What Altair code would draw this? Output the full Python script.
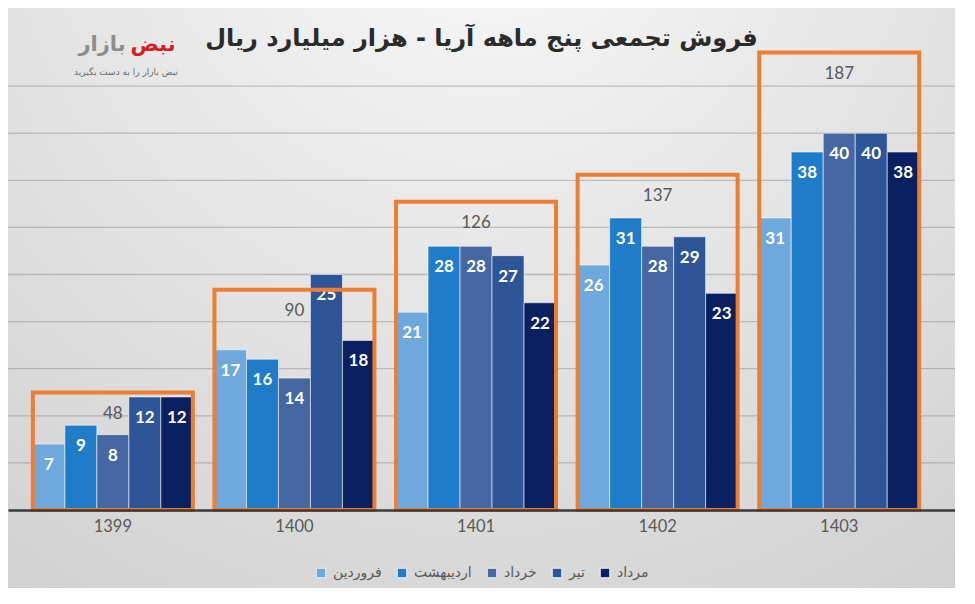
import altair as alt
import pandas as pd

# ---- data ----
years = ["1399", "1400", "1401", "1402", "1403"]
months = ["فروردین", "اردیبهشت", "خرداد", "تیر", "مرداد"]
farvardin = [7, 17, 21, 26, 31]
ordibehesht = [9, 16, 28, 31, 38]
khordad = [8, 14, 28, 28, 40]
tir = [12, 25, 27, 29, 40]
mordad = [12, 18, 22, 23, 38]
totals = [48, 90, 126, 137, 187]
grid_values = [5, 10, 15, 20, 25, 30, 35, 40, 45]

month_colors = ["#6FA8DC", "#1E7CC8", "#4767A3", "#2D5597", "#0B2060"]
title_text = "فروش تجمعی پنج ماهه آریا - هزار میلیارد ریال"
logo_words = ["بازار", "نبض"]
logo_tag = "نبض بازار را به دست بگیرید"

series = [farvardin, ordibehesht, khordad, tir, mordad]
rows = []
for m, vals in zip(months, series):
    for y, v in zip(years, vals):
        rows.append({"year": y, "month": m, "value": v})
df = pd.DataFrame(rows)
tdf = pd.DataFrame({"year": years, "total": totals})
gdf = pd.DataFrame({"g": grid_values})

# ---- scales ----
x_scale = alt.Scale(domain=years, paddingInner=0.119, paddingOuter=0.167, align=0.41)
y_scale = alt.Scale(domain=[-8.28, 53.29], nice=False, zero=False)
t_scale = alt.Scale(domain=[-31.9, 205.2], nice=False, zero=False)

x_axis = alt.Axis(title=None, labelAngle=0, ticks=False, domainColor="#3a3a3a",
                  domainWidth=2.5, labelFontSize=16.5, labelColor="#595959",
                  labelFont="Lato", labelPadding=8, offset=-78, grid=False, zindex=1)
X = alt.X("year:N", scale=x_scale, axis=x_axis, sort=years)
XO = alt.XOffset("month:N", sort=months, scale=alt.Scale(domain=months, paddingInner=0, paddingOuter=0))

legend = alt.Legend(title=None, orient="none", legendX=306, legendY=558,
                    direction="horizontal", symbolType="square", symbolSize=90,
                    symbolStrokeColor="#f0f0f0", symbolStrokeWidth=1,
                    labelFontSize=14, labelColor="#595959", labelFont="DejaVu Sans",
                    columnPadding=13, labelOffset=5)

bg_fill = {
    "gradient": "radial", "x1": 0.5, "y1": 0.05, "r1": 0, "x2": 0.5, "y2": 0.05, "r2": 0.95,
    "stops": [{"offset": 0, "color": "#fafafa"},
              {"offset": 0.45, "color": "#e6e6e6"},
              {"offset": 1, "color": "#cfcfcf"}],
}
background = alt.Chart(pd.DataFrame({"k": [0]})).mark_rect(fill=bg_fill).encode(
    x=alt.value(0), x2=alt.value("width"), y=alt.value(0), y2=alt.value("height"))

grid = alt.Chart(gdf).mark_rule(color="#7f7f7f", opacity=0.42, strokeWidth=1.3).encode(
    y=alt.Y("g:Q", scale=y_scale, axis=None))

bars = alt.Chart(df).mark_bar(stroke="#ffffff", strokeOpacity=0.55, strokeWidth=1).encode(
    x=X,
    xOffset=XO,
    y=alt.Y("value:Q", scale=y_scale, axis=None),
    color=alt.Color("month:N", sort=months,
                    scale=alt.Scale(domain=months, range=month_colors), legend=legend),
)

bar_labels = alt.Chart(df).mark_text(color="white", fontWeight="bold", fontSize=17,
                                     font="Lato", baseline="middle", dy=21).encode(
    x=X, xOffset=XO,
    y=alt.Y("value:Q", scale=y_scale, axis=None),
    text="value:Q",
)

boxes = alt.Chart(tdf).mark_bar(filled=False, stroke="#ED7D31", strokeWidth=4).encode(
    x=X,
    y=alt.Y("total:Q", scale=t_scale, axis=None),
)

total_labels = alt.Chart(tdf).mark_text(fontSize=17, color="#595959", font="Lato",
                                        baseline="middle", dy=21).encode(
    x=X,
    y=alt.Y("total:Q", scale=t_scale, axis=None),
    text="total:Q",
)

logo_a = alt.Chart(pd.DataFrame({"t": [logo_words[0]]})).mark_text(
    fontSize=21, fontWeight="bold", color="#8c8c8c", font="DejaVu Sans").encode(
    x=alt.value(94), y=alt.value(37), text="t:N")
logo_b = alt.Chart(pd.DataFrame({"t": [logo_words[1]]})).mark_text(
    fontSize=21, fontWeight="bold", color="#d0202a", font="DejaVu Sans").encode(
    x=alt.value(145), y=alt.value(37), text="t:N")
logo_c = alt.Chart(pd.DataFrame({"t": [logo_tag]})).mark_text(
    fontSize=9, color="#6d6d6d", font="DejaVu Sans").encode(
    x=alt.value(118), y=alt.value(64), text="t:N")

chart = alt.layer(background, grid, bars, bar_labels, boxes, total_labels,
                  logo_a, logo_b, logo_c).resolve_scale(
    y="independent"
).properties(
    width=947, height=580, padding=0, autosize="none",
    title=alt.Title(title_text, font="DejaVu Sans", fontSize=24, fontWeight="bold",
                    color="#2b2b2b", anchor="middle", frame="group", offset=-43),
).configure_view(stroke=None).configure(background="#d8d8d8")

chart.save("out.html", embed_options={"renderer": "svg", "actions": False})
